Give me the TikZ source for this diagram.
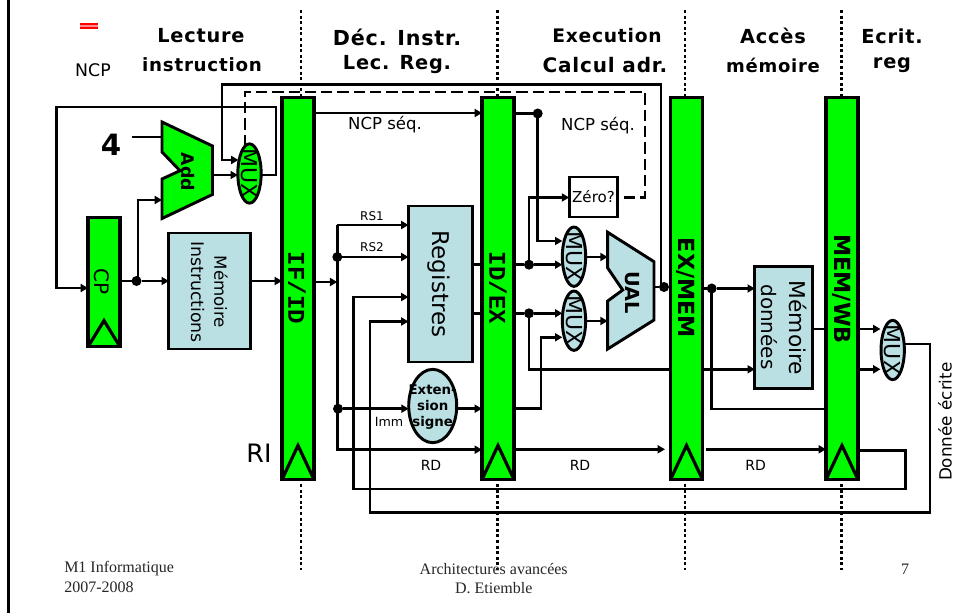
\documentclass[tikz,border=0pt]{standalone}
\usepackage{fontspec}
\setmainfont{DejaVu Sans}
\newfontfamily\headfont[LetterSpace=4]{DejaVu Sans Bold}
\newfontfamily\sansb{DejaVu Sans Bold}
\newfontfamily\monob{Liberation Mono Bold}
\newfontfamily\footf{Liberation Serif}
\usetikzlibrary{arrows.meta,shapes.geometric}
\definecolor{pipegreen}{RGB}{0,250,0}
\definecolor{paleblue}{RGB}{186,224,228}
\tikzset{
  wire/.style={line width=2pt,draw=black,line join=miter},
  arrowwire/.style={wire,-{Triangle[length=5.5pt,width=6pt]}},
  dashwire/.style={wire,dash pattern=on 8.5pt off 3.7pt},
  sep/.style={line width=2.2pt,dash pattern=on 2.2pt off 2pt},
  bar/.style={draw=black,fill=pipegreen,line width=2.4pt,inner sep=0pt,outer sep=0pt,minimum width=24pt},
  pipebar/.style={bar,minimum height=286.5pt},
  barlabel/.style={font=\monob\fontsize{18pt}{18pt}\selectfont,rotate=-90,inner sep=0pt},
  barlabelb/.style={font=\sansb\fontsize{16.7pt}{18pt}\selectfont,rotate=-90,inner sep=0pt},
  block/.style={draw=black,fill=paleblue,line width=2.2pt,inner sep=0pt,outer sep=0pt},
  muxnode/.style={ellipse,draw=black,line width=2.2pt,inner sep=0pt,outer sep=0pt,minimum width=17.5pt,minimum height=44.5pt},
  muxtext/.style={font=\fontsize{16.5pt}{17pt}\selectfont,rotate=-90,inner sep=0pt},
  heading/.style={font=\headfont\fontsize{14.5pt}{16pt}\selectfont,inner sep=0pt},
  small/.style={font=\fontsize{9pt}{10pt}\selectfont,inner sep=0pt},
  mid/.style={font=\fontsize{12.4pt}{13pt}\selectfont,inner sep=0pt},
  rdlabel/.style={font=\fontsize{10.5pt}{12pt}\selectfont,inner sep=0pt},
  foot/.style={font=\footf\fontsize{12pt}{13pt}\selectfont,inner sep=0pt,text=black!85},
  point/.style={circle,fill=black,inner sep=0pt,outer sep=0pt,minimum size=7.5pt},
  polyshape/.style={draw=black,line width=2.2pt,line join=miter},
  upright/.style={rotate=-90,inner sep=0pt},
}
\begin{document}
\begin{tikzpicture}[x=0.75pt,y=-0.75pt]
\useasboundingbox (0,0) rectangle (954,613);
% frame
\draw[line width=1.9pt] (8.5,0) -- (8.5,613);
% red mark
\fill[red] (80,23.5) rectangle (98,29);
\fill[red!45] (80,25.3) rectangle (98,26.6);
% separators
\foreach \x in {301,497.5,685,841.5}{
  \draw[sep] (\x,10) -- (\x,97);
  \draw[sep] (\x,484) -- (\x,570);
}
% headings
\node[heading] (h1a) at (201,36) {Lecture};
\node[heading,font=\headfont\fontsize{13.7pt}{16pt}\selectfont] (h1b) at (202,65) {instruction};
\node[heading,font=\headfont\fontsize{15.5pt}{16pt}\selectfont] (h2a) at (397,37) {Déc. Instr.};
\node[heading] (h2b) at (397,65) {Lec. Reg.};
\node[heading,font=\headfont\fontsize{14pt}{16pt}\selectfont] (h3a) at (607,36) {Execution};
\node[heading,font=\headfont\fontsize{15pt}{16pt}\selectfont] (h3b) at (605,65) {Calcul adr.};
\node[heading] (h4a) at (773,36) {Accès};
\node[heading,font=\headfont\fontsize{13.5pt}{16pt}\selectfont] (h4b) at (773,65) {mémoire};
\node[heading] (h5a) at (892,36) {Ecrit.};
\node[heading] (h5b) at (892,65) {reg};
\node[mid,font=\fontsize{13pt}{14pt}\selectfont] (ncp) at (93,70) {NCP};
% pipeline registers
\node[pipebar] (ifid) at (298,288.5) {};
\node[pipebar] (idex) at (498,288.5) {};
\node[pipebar] (exmem) at (686.5,288.5) {};
\node[pipebar] (memwb) at (842,288.5) {};
\node[bar,minimum height=97pt] (cp) at (104,282) {};
\foreach \b in {ifid,idex,exmem,memwb}{
  \draw[line width=2.4pt,line join=miter] (\b.south west) -- ++(16,-34) -- (\b.south east);
}
\draw[line width=2.4pt,line join=miter] (cp.south west) -- ++(16,-26) -- (cp.south east);
\node[barlabel] (l1) at (297,288) {IF/ID};
\node[barlabel] (l2) at (498,288) {ID/EX};
\node[barlabelb] (l3) at (686,288) {EX/MEM};
\node[barlabelb] (l4) at (842,289) {MEM/WB};
\node[upright,font=\fontsize{15pt}{16pt}\selectfont] (lcp) at (102,282) {CP};
% blocks
\node[block,minimum width=61pt,minimum height=87pt] (imem) at (209.5,291) {};
\node[upright,font=\fontsize{12.5pt}{13pt}\selectfont] (imem1) at (221,292) {Mémoire};
\node[upright,font=\fontsize{13pt}{14pt}\selectfont] (imem2) at (198,292) {Instructions};
\node[block,minimum width=48pt,minimum height=117pt] (regs) at (440.5,284) {};
\node[upright,font=\fontsize{17.3pt}{18pt}\selectfont] (regt) at (439,284) {Registres};
\node[block,minimum width=43pt,minimum height=91pt] (dmem) at (783.5,327.5) {};
\node[upright,font=\fontsize{16.3pt}{17pt}\selectfont] (dm1) at (798,328) {Mémoire};
\node[upright,font=\fontsize{15pt}{16pt}\selectfont] (dm2) at (769,327) {données};
\node[draw=black,fill=white,line width=2.2pt,inner sep=0pt,outer sep=0pt,minimum width=36.5pt,minimum height=30pt,font=\fontsize{11.3pt}{12pt}\selectfont] (zero) at (593.5,197) {Zéro?};
\node[block,ellipse,minimum width=36pt,minimum height=55pt] (ext) at (432.7,406) {};
\node[inner sep=0pt,align=center,font=\sansb\fontsize{10pt}{12pt}\selectfont] (extt) at (432.7,407) {Exten-\\sion\\signe};
% multiplexers
\node[muxnode,fill=pipegreen] (m1) at (249.5,173.5) {};
\node[muxnode,fill=paleblue] (m2) at (574,256.7) {};
\node[muxnode,fill=paleblue] (m3) at (574,320.7) {};
\node[muxnode,fill=paleblue] (m4) at (892.7,350) {};
\foreach \m in {m1,m2,m3,m4}{ \node[muxtext] (t\m) at (\m) {MUX}; }
% adder and ALU
\draw[polyshape,fill=pipegreen] (162,122) -- (212.5,146) -- (212.5,194.5) -- (162,218.5) -- (162,179) -- (180,170.7) -- (162,152) -- cycle;
\node[upright,font=\sansb\fontsize{13pt}{14pt}\selectfont] (add) at (188,172) {Add};
\draw[polyshape,fill=paleblue] (607.7,232.3) -- (654,261.7) -- (654,320) -- (607.7,349) -- (607.7,301) -- (622.7,290) -- (607.7,268) -- cycle;
\node[upright,font=\sansb\fontsize{14.5pt}{16pt}\selectfont] (ual) at (632,293) {UAL};
\coordinate (addA) at (162,137);
\coordinate (addB) at (162,200);
\coordinate (addO) at (212.5,175);
\coordinate (ualA) at (607.7,257);
\coordinate (ualB) at (607.7,321);
\coordinate (ualO) at (654,287);
\coordinate (mtop) at (245,146);
% constant
\node[inner sep=0pt,font=\sansb\fontsize{22pt}{24pt}\selectfont] (four) at (111,145) {4};
\draw[wire] (132,137) -- (addA);
% junctions
\node[point] (j1) at (136.5,281) {};
\node[point] (j2) at (337.3,257) {};
\node[point] (j3) at (338,408.7) {};
\node[point] (j4) at (537.7,113.5) {};
\node[point] (j5) at (529,264.7) {};
\node[point] (j6) at (529,313.3) {};
\node[point] (j7) at (664,287) {};
\node[point] (j8) at (711.7,288.5) {};
% fetch wires
\draw[arrowwire] (addO) -- (m1.west |- 0,175);
\draw[arrowwire] (661,287) -- (661,84.5) -- (222,84.5) -- (222,160) -- (238.5,160);
\draw[dashwire] (mtop) -- (245,92) -- (645,92) -- (645,197.5) -- (zero.east |- 0,197.5);
\draw[arrowwire] (m1.east |- 0,175) -- (276,175) -- (276,107) -- (56.5,107) -- (56.5,288) -- (cp.west |- 0,288);
\draw[wire] (cp.east |- j1) -- (j1);
\draw[arrowwire] (j1) -- (imem.west |- j1);
\draw[arrowwire] (j1.center) -- (138,281) -- (138,200) -- (addB);
\draw[arrowwire] (imem.east |- j1) -- (ifid.west |- j1);
% decode wires
\draw[arrowwire] (ifid.east |- 0,113) -- (idex.west |- 0,113);
\draw[arrowwire] (ifid.east |- 0,282) -- (j2.center |- 0,282);
\draw[arrowwire] (337.3,225) -- (regs.west |- 0,225);
\draw[arrowwire] (j2) -- (regs.west |- j2);
\draw[arrowwire] (j3.center) -- (337.3,408.7) -- (337.3,449.7) -- (idex.west |- 0,449.7);
\draw[wire] (337.3,225) -- (337.3,408.7);
\draw[arrowwire] (j3) -- (ext.west |- j3);
\draw[arrowwire] (ext.east |- j3) -- (idex.west |- j3);
\draw[wire] (regs.east |- j5) -- (idex.west |- j5);
\draw[wire] (regs.east |- j6) -- (idex.west |- j6);
% execute wires
\draw[wire] (idex.east |- j4) -- (j4);
\draw[arrowwire] (j4.center) -- (537.7,241) -- (m2.west |- 0,241);
\draw[wire] (idex.east |- j5) -- (j5);
\draw[arrowwire] (j5) -- (m2.west |- j5);
\draw[arrowwire] (j5.center) -- (529,197.5) -- (zero.west |- 0,197.5);
\draw[wire] (idex.east |- j6) -- (j6);
\draw[arrowwire] (j6) -- (m3.west |- j6);
\draw[wire] (j6.center) -- (529,369.3) -- (exmem.west |- 0,369.3);
\draw[arrowwire] (idex.east |- j3) -- (541,408.7) -- (541,337.3) -- (m3.west |- 0,337.3);
\draw[arrowwire] (m2.east |- ualA) -- (ualA);
\draw[arrowwire] (m3.east |- ualB) -- (ualB);
\draw[wire] (ualO) -- (j7);
\draw[wire] (j7) -- (exmem.west |- j7);
% memory wires
\draw[wire] (exmem.east |- j8) -- (j8);
\draw[arrowwire] (j8) -- (dmem.west |- j8);
\draw[wire] (j8.center) -- (711.7,409) -- (memwb.west |- 0,409);
\draw[arrowwire] (exmem.east |- 0,369.3) -- (dmem.west |- 0,369.3);
\draw[wire] (dmem.east |- 0,329) -- (memwb.west |- 0,329);
% destination wires
\draw[arrowwire] (idex.east |- 0,449.3) -- (665,449.3);
\draw[arrowwire] (705.7,449.3) -- (memwb.west |- 0,449.3);
% write back
\draw[arrowwire] (memwb.east |- 0,329) -- (880.5,329);
\draw[arrowwire] (memwb.east |- 0,369.3) -- (880.5,369.3);
\draw[arrowwire] (memwb.east |- 0,450.5) -- (905.7,450.5) -- (905.7,489) -- (353.3,489) -- (353.3,297) -- (regs.west |- 0,297);
\draw[arrowwire] (905,344) -- (930,344) -- (930,512.7) -- (370,512.7) -- (370,321.5) -- (regs.west |- 0,321.5);
% labels
\node[mid] (seq1) at (385,125) {NCP séq.};
\node[mid] (seq2) at (598,126) {NCP séq.};
\node[small] (rs1) at (372,216) {RS1};
\node[small] (rs2) at (372,247) {RS2};
\node[small,font=\fontsize{9.5pt}{10pt}\selectfont] (imm) at (389,421.7) {Imm};
\node[rdlabel] (rd1) at (431,465.7) {RD};
\node[rdlabel] (rd2) at (580,465.7) {RD};
\node[rdlabel] (rd3) at (755.7,465.7) {RD};
\node[inner sep=0pt,font=\fontsize{19pt}{20pt}\selectfont] (ri) at (259,453) {RI};
\node[rotate=90,inner sep=0pt,font=\fontsize{12.6pt}{13pt}\selectfont] (dw) at (945,421.7) {Donnée écrite};
% footer
\node[foot,anchor=west] (f1) at (64,569) {M1 Informatique};
\node[foot,anchor=west] (f2) at (64,587.5) {2007-2008};
\node[foot] (f3) at (493.7,569) {Architectures avancées};
\node[foot] (f4) at (493.7,588) {D. Etiemble};
\node[foot] (f5) at (905,569) {7};
\end{tikzpicture}
\end{document}
